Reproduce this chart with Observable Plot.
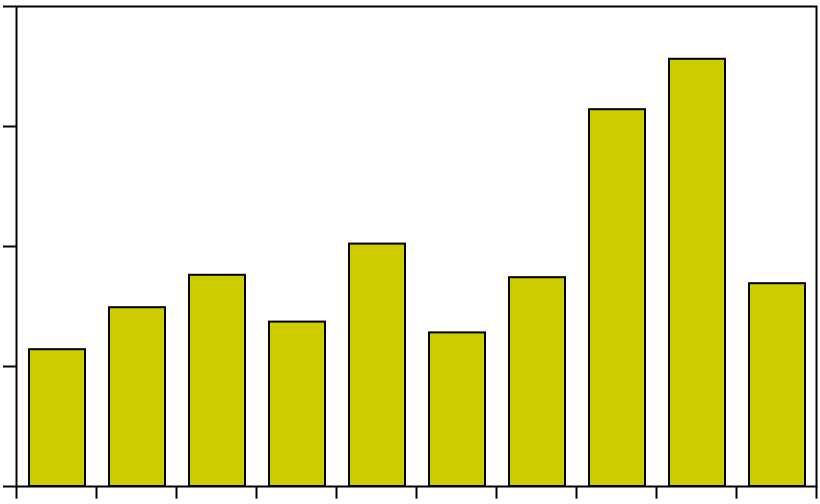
<!DOCTYPE html>
<html><head><meta charset="utf-8">
<script src="https://cdn.jsdelivr.net/npm/d3@7"></script>
<script src="https://cdn.jsdelivr.net/npm/@observablehq/plot@0.6"></script>
<style>body{margin:0;background:#fff}</style>
</head><body><div id="chart"></div>
<script>
const categories = ["1","2","3","4","5","6","7","8","9","10"];
const values = [1.14, 1.49, 1.76, 1.37, 2.02, 1.28, 1.74, 3.14, 3.56, 1.69];
const yTicks = [0, 1, 2, 3, 4];
const barColor = "#cccc00";

const data = categories.map((c, i) => ({category: c, value: values[i]}));

const chart = Plot.plot({
  width: 820, height: 504,
  marginLeft: 16, marginRight: 4, marginTop: 6, marginBottom: 18,
  x: {domain: categories, paddingInner: 0.3, paddingOuter: 0.15, axis: null},
  y: {domain: [0, 4], axis: null, label: null},
  marks: [
    Plot.barY(data, {x: "category", y: "value", fill: barColor, stroke: "black", strokeWidth: 2, dx: 1}),
    Plot.frame({stroke: "black", strokeWidth: 2}),
    Plot.axisY({ticks: yTicks, tickSize: 13, tickFormat: () => "", label: null, stroke: "black", strokeWidth: 2}),
    Plot.ruleX(categories, {x: d => d, y1: 0, y2: -0.105, dx: -40, stroke: "black", strokeWidth: 2}),
    Plot.ruleX(categories.slice(-1), {x: d => d, y1: 0, y2: -0.105, dx: 40, stroke: "black", strokeWidth: 2})
  ]
});
document.getElementById("chart").append(chart);
</script>
</body></html>
